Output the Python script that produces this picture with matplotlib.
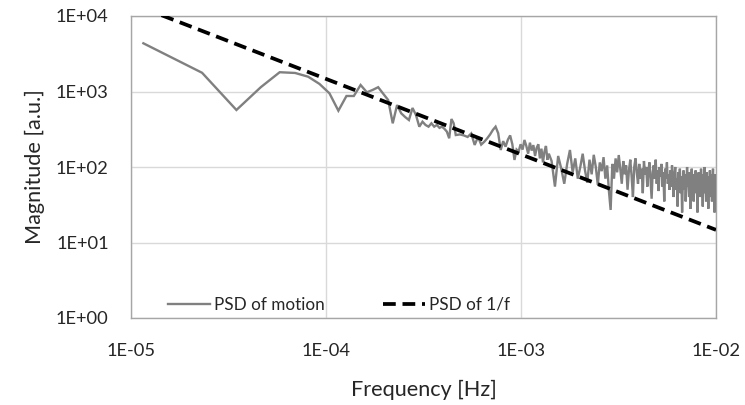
import numpy as np
import matplotlib
matplotlib.use("Agg")
import matplotlib.pyplot as plt
from matplotlib.ticker import FixedLocator, NullLocator

plt.rcParams['font.family'] = ['Lato', 'DejaVu Sans']

# ---- data -------------------------------------------------------------
freq_resolution = 1.0 / 86400.0  # Hz (one day record)

harm_seg1 = list(range(1, 41))
psd_seg1 = [4350, 1770, 569, 1140, 1800, 1760, 1570, 1260, 946, 557,
            872, 872, 1220, 976, 1050, 1140, 930, 772, 379, 662,
            514, 459, 419, 605, 488, 342, 398, 360, 342, 379,
            342, 360, 330, 342, 320, 294, 240, 432, 380, 265]

harm_seg2 = list(range(42, 121, 2))
psd_seg2 = [270, 262, 250, 278, 196, 250, 198, 216, 240, 270,
            310, 342, 280, 168, 220, 186, 230, 262, 200, 124,
            170, 160, 200, 170, 228, 190, 150, 210, 165, 195,
            140, 180, 200, 130, 175, 115, 160, 190, 125, 150]

harm_seg3 = list(range(124, 865, 5))
psd_seg3 = [120, 55, 140, 95, 60, 110, 168, 85, 130, 70, 100, 150, 90, 62,
            125, 80, 145, 100, 58, 115, 88, 135, 70, 105, 48, 27,
            110, 70, 130, 85, 144, 95, 60, 120, 80, 105, 50, 90, 125, 75,
            40, 100, 130, 85, 60, 110, 70, 95, 45, 120, 80, 100, 55, 90,
            115, 65, 38, 85, 105, 70, 125, 60, 90, 48, 100, 75, 110, 55,
            85, 35, 95, 70, 115, 60, 80, 50,
            90, 55, 105, 65, 40, 80, 100, 50, 70, 30, 85, 60, 95, 45, 75,
            25, 65, 90, 50, 80, 35, 60, 100, 55, 75, 40, 85, 28, 70, 95,
            50, 65, 35, 80, 55, 90, 45, 70, 25, 60, 85, 50, 75, 40, 95,
            55, 65, 30, 80, 60, 100, 45, 70, 35, 85, 55, 65, 28, 75, 50,
            90, 40, 60, 80, 35, 70, 95, 45, 65, 25, 80, 55, 60]

harmonics = harm_seg1 + harm_seg2 + harm_seg3
psd_motion = psd_seg1 + psd_seg2 + psd_seg3
freq = [h * freq_resolution for h in harmonics]

# 1/f reference line (end points)
ref_freq = [1.157e-5, 1.0e-2]
ref_psd = [12700, 14.7]

x_ticks = [1e-5, 1e-4, 1e-3, 1e-2]
x_labels = ['1E-05', '1E-04', '1E-03', '1E-02']
y_ticks = [1e0, 1e1, 1e2, 1e3, 1e4]
y_labels = ['1E+00', '1E+01', '1E+02', '1E+03', '1E+04']

# ---- plot -------------------------------------------------------------
fig = plt.figure(figsize=(7.45, 4.05), dpi=100)
ax = fig.add_axes([131 / 745, 1 - 318 / 405, (716 - 131) / 745, (318 - 16) / 405])

ax.plot(freq, psd_motion, color='#808080', lw=1.7, label='PSD of motion',
        solid_joinstyle='miter', zorder=3)
ax.plot(ref_freq, ref_psd, color='black', lw=2.7, ls=(0, (3.4, 1.8)),
        label='PSD of 1/f', zorder=4)

ax.set_xscale('log')
ax.set_yscale('log')
ax.set_xlim(1e-5, 1e-2)
ax.set_ylim(1e0, 1e4)
ax.xaxis.set_major_locator(FixedLocator(x_ticks))
ax.yaxis.set_major_locator(FixedLocator(y_ticks))
ax.xaxis.set_minor_locator(NullLocator())
ax.yaxis.set_minor_locator(NullLocator())
ax.set_xticklabels(x_labels)
ax.set_yticklabels(y_labels)
ax.tick_params(length=0, labelsize=13.2, colors='#262626')
ax.tick_params(axis='x', pad=18)
ax.tick_params(axis='y', pad=16)

ax.grid(True, which='major', color='#d9d9d9', lw=1.0)
ax.set_axisbelow(True)
for s in ax.spines.values():
    s.set_color('#a6a6a6')
    s.set_linewidth(1.0)

ax.set_xlabel('Frequency [Hz]', fontsize=15.6, color='#262626', labelpad=15)
ax.set_ylabel('Magnitude [a.u.]', fontsize=15.6, color='#262626', labelpad=8)

leg = ax.legend(loc='lower left', bbox_to_anchor=(0.043, -0.022), ncol=2,
                frameon=False, fontsize=12.3, handlelength=2.45,
                handletextpad=0.25, columnspacing=3.4, borderaxespad=0.3)
for t in leg.get_texts():
    t.set_color('#262626')

fig.savefig('out.png', dpi=100)
